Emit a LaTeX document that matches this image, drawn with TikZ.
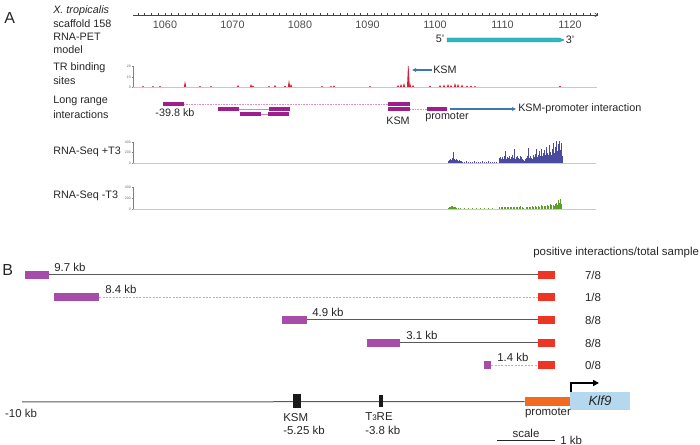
\documentclass[tikz,border=0pt]{standalone}
\usepackage{fontspec}
\setmainfont{Liberation Sans}
\usetikzlibrary{arrows.meta}
\definecolor{purpA}{HTML}{9E1F8C}
\definecolor{purpB}{HTML}{A84CAA}
\definecolor{redB}{HTML}{EE3424}
\definecolor{orangeB}{HTML}{F26A22}
\definecolor{klfblue}{HTML}{B5D8EE}
\definecolor{tealbar}{HTML}{30B8C2}
\definecolor{tealdark}{HTML}{1E8F99}
\definecolor{trred}{HTML}{D4213A}
\definecolor{seqblue}{HTML}{4A4B9E}
\definecolor{seqgreen}{HTML}{5E9E2E}
\definecolor{cyanline}{HTML}{9FD8E2}
\definecolor{bluearr}{HTML}{3B78B5}
\definecolor{grayline}{HTML}{5A5A5A}
\definecolor{pinkdot}{HTML}{E08CCB}
\definecolor{pinkgray}{HTML}{C9A7B8}
\definecolor{axisgray}{HTML}{444444}
\begin{document}
\begin{tikzpicture}[x=0.75pt,y=-0.75pt,
  every node/.style={font=\fontsize{8.1}{9}\selectfont, inner sep=0pt, text=black!85},
  lbl/.style={anchor=west},
  bfont/.style={font=\fontsize{8.6}{10}\selectfont},
  panel/.style={font=\fontsize{12}{14}\selectfont, anchor=west},
  tinylab/.style={font=\fontsize{2.6}{3}\selectfont, anchor=east, text=black!60},
  pbarA/.style={fill=purpA, minimum width=#1*0.75pt, minimum height=3pt},
  pbarB/.style={fill=purpB, minimum width=#1*0.75pt, minimum height=6.4pt},
  rbox/.style={fill=redB, minimum width=12.75pt, minimum height=6.4pt},
  conn/.style={draw=grayline, line width=0.75pt},
  dconn/.style={draw=pinkgray, line width=0.4pt, dash pattern=on 1.5pt off 1pt},
  pinkdotted/.style={draw=pinkdot, line width=0.5pt, dash pattern=on 0.6pt off 0.6pt},
  pinkthin/.style={draw=pinkdot!80!gray, line width=0.4pt},
  barrow/.style={draw=bluearr, line width=0.8pt, -{Triangle[length=3pt,width=2.6pt]}},
  base/.style={draw=cyanline, line width=0.6pt},
  yax/.style={draw=gray, line width=0.3pt}
]
\useasboundingbox (0,0) rectangle (700,445);

% ================= Panel A =================
\node[panel] (A) at (4,18) {A};
\node[lbl] (l1) at (53,11) {\itshape X. tropicalis};
\node[lbl] (l2) at (53,24) {scaffold 158};
\node[lbl] (l3) at (53,37) {RNA-PET};
\node[lbl] (l4) at (53,50) {model};
\node[lbl] (l5) at (53,68) {TR binding};
\node[lbl] (l6) at (53,81) {sites};
\node[lbl] (l7) at (53,101) {Long range};
\node[lbl] (l8) at (53,115) {interactions};
\node[lbl] (l9) at (53,152) {RNA-Seq +T3};
\node[lbl] (l10) at (53,196) {RNA-Seq -T3};

% scaffold axis
\draw[axisgray, line width=0.5pt, -{To[length=2.5pt,width=3pt]}] (133,15) -- (598,15);
\foreach \k in {1056,...,1124}
  \draw[axisgray, line width=0.4pt] ({165+(\k-1060)*6.75},13.5) -- ++(0,3);
\foreach \k in {1060,1070,...,1120}
  \node[text=black!70] (t\k) at ({165+(\k-1060)*6.75},25) {\k};

% RNA-PET model
\fill[tealbar, draw=tealdark, line width=0.3pt] (447,38) -- (559,38) -- (564,40) -- (559,42) -- (447,42) -- cycle;
\node (p5) at (440,39) {5'};
\node (p3) at (570,40) {3'};

% TR binding track
\draw[yax] (133,66) -- (133,87);
\foreach \yy/\t in {66/20,77/10,87/0} {
  \draw[yax] (131.5,\yy) -- (133,\yy);
  \node[tinylab] (tr\t) at (131,\yy) {\t};
}
\draw[base] (133,87) -- (597,87);
\foreach \x/\h in {143/1.2,153/1.2,160/1.2,185/6,200/1.2,211/1.2,238/2,251/3,253/1.5,269/1.2,275/2,285/1.5,289/7,291/3,322/1,331/1.2,334/1.5,370/1,398/2,401/3,404/4,410/4,413/2,430/1.5,440/2,444/2.5,448/3,451/2,455/4,458/3,462/2.5,467/1.5,471/1.5,475/1,560/1.5}
  \fill[trred] (\x-1.2,87) -- (\x,87-\h) -- (\x+1.2,87) -- cycle;
\fill[trred] (407,87) -- (408,66) -- (408.6,66) -- (409.8,87) -- cycle;
\node[lbl] (ksmA) at (433,70) {KSM};
\coordinate (peaktop) at (412,70);
\draw[barrow] (ksmA.west) ++(-1.5,0) -- (peaktop);

% Long range interactions
\node[pbarA=21] (la1) at (173.5,104) {};
\node[pbarA=21] (la2) at (228.5,109) {};
\node[pbarA=21] (la3) at (279.5,109) {};
\node[pbarA=21] (la4) at (250.5,114) {};
\node[pbarA=21] (la5) at (278.5,114) {};
\node[pbarA=22] (ksm1) at (399,104) {};
\node[pbarA=22] (ksm2) at (399,109) {};
\node[pbarA=20] (promA) at (437,109) {};
\draw[pinkdotted] (la1.east) -- (ksm1.west);
\draw[pinkthin] (la2.east) -- (la3.west);
\draw[pinkthin] (la4.east) -- (la5.west);
\draw[pinkdotted] (ksm2.east) -- (promA.west);
\node (d398) at (175,113) {-39.8 kb};
\node (ksmlabA) at (398,121) {KSM};
\node (promlabA) at (447,117) {promoter};
\node[lbl] (kpi) at (518,109) {KSM-promoter interaction};
\draw[barrow, shorten <=2pt, shorten >=1.5pt] (promA.east) -- (kpi.west);

% RNA-Seq +T3
\draw[yax] (133,142) -- (133,163);
\foreach \yy/\t in {142/400,152/200,163/0} {
  \draw[yax] (131.5,\yy) -- (133,\yy);
  \node[tinylab] (sp\t) at (131,\yy) {\t};
}
\draw[base] (133,163) -- (596,163);
\foreach \x/\h in {448/2,449/3,450/4,451/3,452/5,453/11,454/4,455/3,456/4,457/3,458/2,459/3,460/2,461/2,462/1,464/1,466/1.5,468/1,470/1,472/1,474/1.5,476/1,478/1,480/1,482/1.5,484/1,486/1,488/1.5,490/1,492/1,494/1,496/1,499/5,500/6,501/4,502/6,503/4,504/7,505/12,506/4,507/6,508/5,509/7,510/4,511/6,512/8,513/5,514/14,515/4,516/6,517/7,518/5,519/4,520/7,521/6,522/4,523/3,524/2,525/4,526/5,527/7,528/15,529/5,530/7,531/5,532/4,533/8,534/6,535/9,536/14,537/6,538/8,539/12,540/7,541/14,542/7,543/10,544/13,545/8,546/16,547/10,548/8,549/18,550/11,551/8,552/14,553/20,554/10,555/16,556/22,557/12,558/19,559/22,560/13,561/20,562/7}
  \draw[seqblue, line width=0.7pt] (\x,163) -- (\x,163-\h);

% RNA-Seq -T3
\draw[yax] (133,187) -- (133,209);
\foreach \yy/\t in {187/400,198/200,209/0} {
  \draw[yax] (131.5,\yy) -- (133,\yy);
  \node[tinylab] (sm\t) at (131,\yy) {\t};
}
\draw[base] (133,209) -- (596,209);
\foreach \x/\h in {448/1,449/1.5,450/2,451/2.5,452/3,453/2,454/2,455/1.5,456/1,458/1,460/1,464/0.6,468/0.6,472/0.6,476/0.6,480/0.6,484/0.6,488/0.6,492/0.6,499/1.5,501/1.5,502/2,504/1.5,505/2,507/1.5,508/1.5,510/2,511/2,513/1.5,514/2,516/1.5,517/1.5,519/2,520/2.5,522/1.5,523/1,526/2,527/1.5,529/2,530/2,532/3,533/2,535/2.5,536/2,538/3,539/2,541/4,542/3,544/3,545/2.5,547/3.5,548/3,550/5,551/4,553/4,554/3,555/5,556/6,557/4,558/9,559/6,560/10,561/5}
  \draw[seqgreen, line width=0.7pt] (\x,209) -- (\x,209-\h);

% ================= Panel B =================
\node[panel] (B) at (2,270) {B};
\node[lbl, bfont] (pit) at (533,253) {positive interactions/total sample};

\node[pbarB=24] (b1) at (37,275) {};
\node[pbarB=45] (b2) at (76.5,297) {};
\node[pbarB=25] (b3) at (294.5,320) {};
\node[pbarB=33] (b4) at (383.5,343) {};
\node[pbarB=7]  (b5) at (487.5,365) {};
\node[rbox] (r1) at (546.5,275) {};
\node[rbox] (r2) at (546.5,297) {};
\node[rbox] (r3) at (546.5,320) {};
\node[rbox] (r4) at (546.5,343) {};
\node[rbox] (r5) at (546.5,365) {};
\draw[conn] (b1.east) -- (r1.west);
\draw[dconn] (b2.east) -- (r2.west);
\draw[conn] (b3.east) -- (r3.west);
\draw[conn] (b4.east) -- (r4.west);
\draw[dconn] (b5.east) -- (r5.west);
\node[lbl, bfont] (k1) at (54,267) {9.7 kb};
\node[lbl, bfont] (k2) at (105,289) {8.4 kb};
\node[lbl, bfont] (k3) at (312,312) {4.9 kb};
\node[lbl, bfont] (k4) at (406,335) {3.1 kb};
\node[lbl, bfont] (k5) at (497,357) {1.4 kb};
\node[bfont] (f1) at (593,275) {7/8};
\node[bfont] (f2) at (593,297) {1/8};
\node[bfont] (f3) at (593,320) {8/8};
\node[bfont] (f4) at (593,343) {8/8};
\node[bfont] (f5) at (593,365) {0/8};

% gene map
\coordinate (m0) at (22,402);
\node[fill=orangeB, minimum width=33.75pt, minimum height=6.75pt] (promB) at (547.5,401.5) {};
\node[fill=klfblue, minimum width=45pt, minimum height=13.5pt, font=\fontsize{10}{12}\selectfont\itshape] (klf) at (600,401) {Klf9};
\draw[conn] (m0) -- (promB.west);
\node[fill=black!90, minimum width=6pt, minimum height=10.5pt] (ksmB) at (297,401) {};
\node[fill=black!90, minimum width=3pt, minimum height=9pt] (t3re) at (381,401) {};
\coordinate (tss) at (571,392);
\draw[black, line width=1.6pt, -{Triangle[length=4.5pt,width=4.5pt]}] (tss) -- ++(0,-9) -- ++(28,0);
\node[bfont] (m10) at (21,413) {-10 kb};
\node[lbl, bfont] (ksmlabB) at (283,418) {KSM};
\node[lbl, bfont] (ksmkb) at (283,430) {-5.25 kb};
\node[lbl, bfont] (t3lab) at (365,417) {T{\fontsize{6}{6}\selectfont 3}RE};
\node[lbl, bfont] (t3kb) at (365,430) {-3.8 kb};
\node[bfont] (promlabB) at (548,413) {promoter};
\coordinate (s1) at (497,440);
\coordinate (s2) at (555,440);
\draw[black!85, line width=0.6pt] (s1) -- (s2);
\node[bfont] (scl) at (526,433) {scale};
\node[lbl, bfont] (onekb) at (560,440) {1 kb};
\end{tikzpicture}
\end{document}
